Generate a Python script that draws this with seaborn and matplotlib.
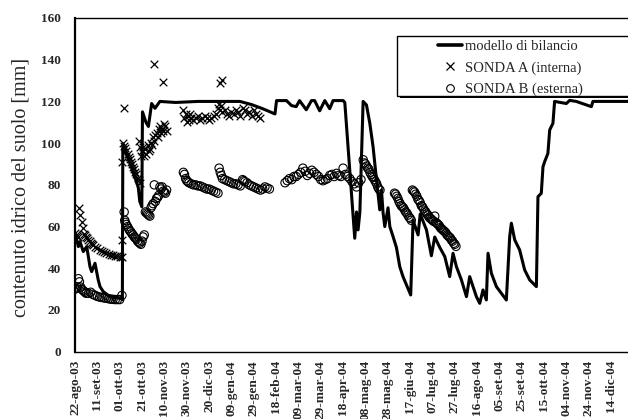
import matplotlib
matplotlib.use("Agg")
import matplotlib.pyplot as plt
import seaborn as sns
from matplotlib.lines import Line2D
from matplotlib.patches import Rectangle

# Giorni trascorsi dal 22-ago-2003
START_DATE = "2003-08-22"

# Modello di bilancio idrico (vertici della spezzata)
model_day = [0, 3, 4.5, 7.4, 10.5, 13.4, 14.9, 17.9, 20.8, 22.4, 25.3, 31.3, 40.3, 42.4,
             42.8, 50, 56.6, 58, 59.8, 60.4, 63.5, 65.7, 68.6, 71.6, 76, 90, 110, 130,
             147.6, 158, 168, 179, 180.4, 189.3, 193.8, 198, 201, 207, 211.7, 214.5, 219,
             223.6, 228, 231, 236, 240, 241.5, 250.4, 252, 253.4, 255, 257.9, 260.9, 263.9,
             266.8, 269.9, 272.8, 274.3, 275.8, 277.3, 280.2, 281.8, 284.7, 287.7, 290.7,
             293.6, 300.5, 302.6, 307.1, 309, 314.6, 319, 322, 326.5, 331, 335.4, 338.4,
             341.4, 345.9, 350.4, 353.3, 359.3, 362.3, 365.2, 368.2, 369.7, 372.7, 377.2,
             386.1, 389.1, 390.6, 393.6, 398, 402.5, 407, 413, 414.4, 417.4, 418.9, 420.4,
             423.3, 424.9, 427.8, 429.3, 439.8, 442.8, 448.7, 462.2, 463.6, 495]
model_val = [57, 50.4, 52.8, 48, 50.4, 40.8, 38.4, 42.4, 34.4, 31.2, 28.8, 26.4, 25.6, 25,
             99, 89, 79, 72, 69.5, 115, 110, 108, 119, 116.7, 120, 119.5, 120, 120,
             120, 118.5, 116.5, 114, 120.4, 120.4, 118, 117.5, 120.4, 116, 120.4, 120.4, 115.5,
             120.4, 116.5, 120.4, 120.4, 120.4, 119.5, 54.4, 67, 58.4, 67, 120, 118.3, 109.5,
             98.3, 82.3, 68, 77.5, 66.4, 60, 69, 60, 55.2, 50, 40.8,
             36, 27.2, 63, 56, 66, 58.4, 46, 55, 50, 45.6, 36, 47.2,
             40.8, 34.4, 26.4, 36, 26.4, 23.2, 29.6, 24.8, 47.2, 37.6, 31.2,
             24.8, 55.2, 61.6, 53.6, 48.8, 39.2, 34.4, 31.2, 74.3, 76, 88.7, 91.1,
             95.1, 106.3, 109.5, 120, 119, 120.5, 120, 117.5, 120, 120]

# SONDA A (interna)
sonda_a_day = [0, 1, 2, 3, 3.5, 4.5, 6, 7.4, 8, 9, 10, 11, 12, 13, 14, 15, 16, 18, 20, 22,
               24, 26, 28, 30, 32, 34, 36, 38, 40, 41.8, 42,
               42.3, 43.3, 43.8, 44, 45, 46, 47, 48, 49, 50, 51, 52, 53, 54, 55, 56, 57, 58,
               57, 58, 59, 60, 61, 62, 63, 64, 65, 66, 67, 68, 69, 70, 71, 72, 73, 74, 75,
               76, 77, 78, 78.4, 79, 80, 81, 82, 71,
               97, 98, 99, 100, 101, 102, 103, 104, 106, 108, 110, 112, 114, 116, 118, 120,
               122, 124, 126, 128, 129, 130, 131, 132, 134, 136, 138, 140, 142, 144, 146,
               148, 150, 152, 154, 156, 158, 160, 162, 164, 166, 130, 131.5]
sonda_a_val = [57, 56, 55.5, 55.2, 68.8, 65.6, 62.4, 59.2, 56.5, 56, 55, 54.5, 53.6, 53, 52.3,
               51.8, 51.2, 50.2, 49.5, 48.8, 48.2, 47.8, 47.4, 47, 46.6, 46.3, 46, 45.8, 45.6,
               53.6, 45.5,
               91, 100, 116.7, 98.5, 97.5, 96, 95, 93.5, 92.5, 91, 90, 88.5, 87.5, 86, 85,
               83.5, 82.5, 81,
               101, 98, 94, 96, 98, 94, 97, 95, 99, 96, 97, 100, 99, 103, 101, 104, 105, 103,
               107, 108, 105, 107, 129.5, 106, 109, 108, 106, 138,
               116, 112, 114, 110, 113, 111, 114, 112, 111, 112, 113, 111, 112, 113, 112, 111,
               112, 113, 114, 117, 119, 116, 118, 115, 116, 114, 113, 115, 114, 116, 115, 113,
               117, 116, 114, 115, 113, 116, 114, 113, 112, 128.7, 130.3]

# SONDA B (esterna)
sonda_b_day = [0, 1, 2, 3, 4, 5, 6, 7, 8, 9, 10, 12, 14, 16, 18, 20, 22, 24, 26, 28, 30, 32,
               34, 36, 38, 40, 42,
               44, 44.5, 45, 46, 47, 48, 49, 50, 51, 52, 53, 54, 55, 56, 57, 58, 59, 60, 61, 62,
               63, 64, 65, 66, 67, 68, 69, 70, 71, 72, 73, 74, 75, 76, 77, 78, 79, 80, 81, 82,
               97, 98, 99, 100, 101, 102, 104, 106, 108, 110, 112, 114, 116, 118, 120, 122,
               124, 126, 128, 129, 130, 131, 132, 134, 136, 138, 140, 142, 144, 146, 148, 150,
               151, 152, 154, 156, 158, 160, 162, 164, 166, 168, 170, 172, 174,
               188, 190, 192, 194, 196, 198, 200, 202, 204, 206, 208, 210, 212, 214, 216, 218,
               220, 222, 224, 226, 228, 230, 232, 234, 236, 238, 240, 242, 244, 246, 248, 250,
               252, 254, 256,
               258, 259, 260, 261, 262, 263, 264, 265, 266, 267, 268, 269, 270, 271, 272, 273,
               286, 287, 288, 289, 290, 291, 292, 293, 294, 295, 296, 297, 298, 299, 300, 301,
               302, 303, 304, 305, 306, 307, 308, 309, 310, 311, 312, 313, 314, 315, 316, 317,
               318, 319, 320, 321, 322, 323, 324, 325, 326, 327, 328, 329, 330, 331, 332, 333,
               334, 335, 336, 337, 338, 339, 340, 341]
sonda_b_val = [30, 30.5, 31, 35, 33.5, 31, 30, 29.5, 29, 28.5, 28, 28, 28.5, 27.5, 27, 26.5,
               26.2, 26, 25.8, 25.6, 25.4, 25.2, 25.1, 25, 25, 25, 27,
               67, 63, 62, 61, 60, 59, 58, 57.5, 56.5, 56, 55, 54.5, 54, 53, 52.5, 52, 51.5, 53,
               55, 56,
               67, 66.5, 66, 65.5, 65, 69, 70, 71, 80, 72, 73.5, 74, 75, 79, 78, 79, 77, 76.5,
               76, 77.5,
               86, 85, 83, 82, 81.5, 81, 80.5, 80, 80, 79.5, 79.5, 79, 78.5, 78, 78, 77.5, 77,
               76.5, 76, 88, 86, 84.5, 83, 82.5, 82, 81.5, 81, 80.5, 80.5, 80, 79.5, 82.5, 82,
               81.5, 81, 80, 79.5, 79, 78.5, 78, 77.5, 78, 79, 78.5, 78,
               81, 82, 83, 82.5, 84, 84, 85, 86, 88, 86.5, 84.5, 85.5, 87, 86, 85, 84, 82.5, 82,
               82.5, 83, 84.5, 85, 84, 85.5, 84.5, 84, 88, 85, 84, 83, 81.5, 80.5, 79, 81, 82.5,
               92, 90.5, 90, 89, 88, 87.5, 86, 85, 84, 83.5, 82.5, 81.5, 80.5, 79, 78, 77.5,
               76, 75.5, 74.5, 73.5, 72, 71, 70, 69.5, 69, 68, 67, 66.5, 65.5, 64.5, 64, 63,
               77.5, 77, 76.5, 75.5, 74.5, 73, 72.5, 71.5, 70, 69.5, 68.5, 67.5, 67, 66, 65.5,
               64.5, 64, 63.5, 63, 62.5, 65, 62, 61.5, 61, 60.5, 59.5, 59, 58.5, 58, 57.5, 57,
               56, 55.5, 55, 54.5, 53.5, 53, 52, 51.5, 50.5]

# Etichette dell'asse dei tempi (una ogni 20 giorni)
tick_day = list(range(0, 481, 20))
tick_labels = ["22-ago-03", "11-set-03", "01-ott-03", "21-ott-03", "10-nov-03", "30-nov-03",
               "20-dic-03", "09-gen-04", "29-gen-04", "18-feb-04", "09-mar-04", "29-mar-04",
               "18-apr-04", "08-mag-04", "28-mag-04", "17-giu-04", "07-lug-04", "27-lug-04",
               "16-ago-04", "05-set-04", "25-set-04", "15-ott-04", "04-nov-04", "24-nov-04",
               "14-dic-04"]
y_ticks = [0, 20, 40, 60, 80, 100, 120, 140, 160]

sns.set_theme(style="white")
SERIF = ["Liberation Serif", "DejaVu Serif"]
plt.rcParams["font.family"] = SERIF

W, H = 628, 419
fig = plt.figure(figsize=(W / 100, H / 100), dpi=100)
ax = fig.add_axes([75 / W, 1 - 351.7 / H, 1 - 75 / W, (351.7 - 18) / H])

sns.lineplot(x=model_day, y=model_val, color="black", linewidth=2.2,
             estimator=None, sort=False, ax=ax, zorder=3)
sns.scatterplot(x=sonda_a_day, y=sonda_a_val, marker="x", color="black", s=30,
                linewidth=0.9, ax=ax, zorder=2)
sns.scatterplot(x=sonda_b_day, y=sonda_b_val, marker="o", color="black", s=36,
                linewidth=0.8, ax=ax, zorder=2)
circles = ax.collections[-1]
circles.set_facecolor("none")
circles.set_edgecolor("black")

ax.set_xlim(0, 495)
ax.set_ylim(0, 160)
ax.set_xticks(tick_day)
ax.set_xticklabels(tick_labels, rotation=90, fontweight="bold", fontsize=9.5,
                   family=SERIF)
ax.set_yticks(y_ticks)
ax.set_yticklabels([str(v) for v in y_ticks], fontweight="bold", fontsize=9.5,
                   family=SERIF)
ax.tick_params(axis="x", direction="inout", length=7, width=1, color="black", pad=2.5)
ax.tick_params(axis="y", direction="out", length=5, width=1, color="black", pad=5)
ax.set_xlabel("")
ax.set_ylabel("")

for side in ["left", "bottom", "top"]:
    ax.spines[side].set_visible(True)
    ax.spines[side].set_color("black")
ax.spines["left"].set_linewidth(1.6)
ax.spines["bottom"].set_linewidth(1.0)
ax.spines["top"].set_linewidth(1.0)
ax.spines["right"].set_visible(False)

fig.text(21 / W, 1 - 187 / H, "contenuto idrico del suolo [mm]", rotation=90,
         ha="center", va="center", fontsize=14.5, family=SERIF)

# Riquadro della legenda con ombra
fig.add_artist(Rectangle((399.5 / W, 1 - 98.5 / H), 240 / W, 60 / H,
                         transform=fig.transFigure, facecolor="black",
                         edgecolor="none", zorder=3))
fig.add_artist(Rectangle((397 / W, 1 - 96 / H), 240 / W, 60 / H,
                         transform=fig.transFigure, facecolor="white",
                         edgecolor="black", linewidth=1.0, zorder=4))

handles = [Line2D([], [], color="black", linewidth=2.6),
           Line2D([], [], color="black", marker="x", linestyle="none", markersize=5.5,
                  markeredgewidth=0.9),
           Line2D([], [], color="black", marker="o", linestyle="none", markersize=5.5,
                  markerfacecolor="none", markeredgewidth=0.8)]
labels = ["modello di bilancio", "SONDA A (interna)", "SONDA B (esterna)"]
leg = fig.legend(handles, labels, loc="upper left",
                 bbox_to_anchor=(438 / W, 1 - 40 / H), bbox_transform=fig.transFigure,
                 frameon=False, borderpad=0, borderaxespad=0, handlelength=1.65,
                 handletextpad=0.2, labelspacing=0.55, prop={"family": SERIF, "size": 10.5})
leg.set_zorder(6)

fig.savefig("out.png", dpi=100)
